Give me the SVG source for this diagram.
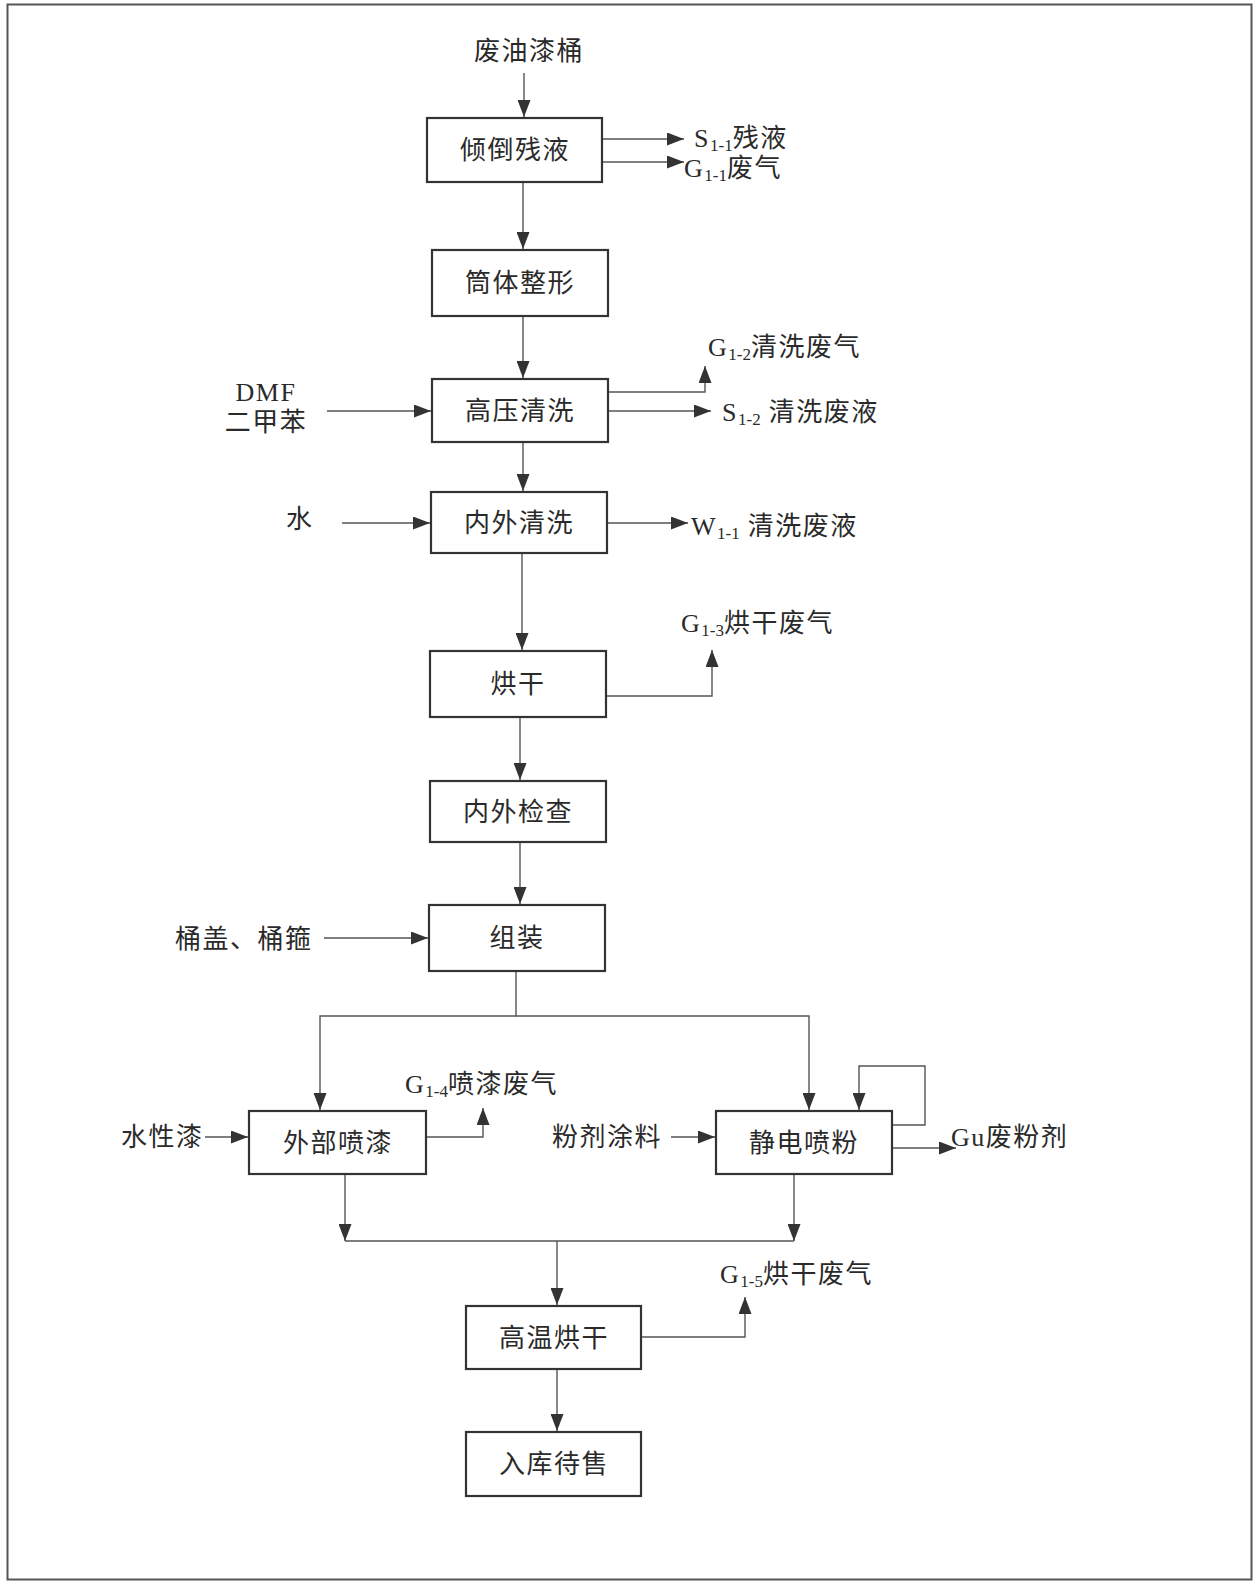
<svg xmlns="http://www.w3.org/2000/svg" width="1257" height="1586" viewBox="0 0 1257 1586">
<style>
.box{fill:#fff;stroke:#333;stroke-width:2.2}
.ln{fill:none;stroke:#555;stroke-width:1.4}
.t{font-family:"Liberation Serif","Noto Sans CJK SC",serif;font-size:26px;fill:#2a2a2a;letter-spacing:1.5px}
.c{text-anchor:middle}
.sub{font-size:17px;letter-spacing:0}
</style>
<defs>
<marker id="ah" markerUnits="userSpaceOnUse" markerWidth="17" markerHeight="13" refX="17" refY="6.5" orient="auto">
<path d="M0,0 L17,6.5 L0,13 z" fill="#333"/>
</marker>
</defs>
<rect x="0" y="0" width="1257" height="1586" fill="#fff"/>
<rect x="7.5" y="4.5" width="1244" height="1575" fill="none" stroke="#555" stroke-width="2"/>

<g id="connectors">
<line class="ln" x1="524" y1="73" x2="524" y2="117" marker-end="url(#ah)"/>
<line class="ln" x1="603" y1="139" x2="684" y2="139" marker-end="url(#ah)"/>
<line class="ln" x1="603" y1="162" x2="684" y2="162" marker-end="url(#ah)"/>
<line class="ln" x1="523" y1="183" x2="523" y2="249" marker-end="url(#ah)"/>
<line class="ln" x1="523" y1="316" x2="523" y2="378" marker-end="url(#ah)"/>
<polyline class="ln" points="608,392 705,392 705,366" marker-end="url(#ah)"/>
<line class="ln" x1="608" y1="411" x2="711" y2="411" marker-end="url(#ah)"/>
<line class="ln" x1="327" y1="411" x2="431" y2="411" marker-end="url(#ah)"/>
<line class="ln" x1="523" y1="442" x2="523" y2="491" marker-end="url(#ah)"/>
<line class="ln" x1="342" y1="523" x2="430" y2="523" marker-end="url(#ah)"/>
<line class="ln" x1="607" y1="523" x2="688" y2="523" marker-end="url(#ah)"/>
<line class="ln" x1="522" y1="553" x2="522" y2="650" marker-end="url(#ah)"/>
<polyline class="ln" points="606,696 712,696 712,650" marker-end="url(#ah)"/>
<line class="ln" x1="520" y1="717" x2="520" y2="780" marker-end="url(#ah)"/>
<line class="ln" x1="520" y1="842" x2="520" y2="904" marker-end="url(#ah)"/>
<line class="ln" x1="324" y1="938" x2="428" y2="938" marker-end="url(#ah)"/>
<polyline class="ln" points="516,971 516,1016 320,1016 320,1110" marker-end="url(#ah)"/>
<polyline class="ln" points="516,1016 809,1016 809,1110" marker-end="url(#ah)"/>
<line class="ln" x1="205" y1="1137" x2="248" y2="1137" marker-end="url(#ah)"/>
<polyline class="ln" points="426,1137 483,1137 483,1108" marker-end="url(#ah)"/>
<line class="ln" x1="671" y1="1137" x2="715" y2="1137" marker-end="url(#ah)"/>
<polyline class="ln" points="892,1125 925,1125 925,1066 859,1066 859,1110" marker-end="url(#ah)"/>
<line class="ln" x1="892" y1="1148" x2="956" y2="1148" marker-end="url(#ah)"/>
<line class="ln" x1="345" y1="1174" x2="345" y2="1241" marker-end="url(#ah)"/>
<line class="ln" x1="794" y1="1174" x2="794" y2="1241" marker-end="url(#ah)"/>
<line class="ln" x1="345" y1="1241" x2="794" y2="1241"/>
<line class="ln" x1="557" y1="1241" x2="557" y2="1305" marker-end="url(#ah)"/>
<polyline class="ln" points="641,1337 745,1337 745,1297" marker-end="url(#ah)"/>
<line class="ln" x1="557" y1="1369" x2="557" y2="1431" marker-end="url(#ah)"/>
</g>

<g id="n1"><rect class="box" x="427" y="118" width="175" height="64"/><text class="t c" x="515" y="159">倾倒残液</text></g>
<g id="n2"><rect class="box" x="432" y="250" width="176" height="66"/><text class="t c" x="520" y="292">筒体整形</text></g>
<g id="n3"><rect class="box" x="432" y="379" width="176" height="63"/><text class="t c" x="520" y="420">高压清洗</text></g>
<g id="n4"><rect class="box" x="431" y="492" width="176" height="61"/><text class="t c" x="519" y="532">内外清洗</text></g>
<g id="n5"><rect class="box" x="430" y="651" width="176" height="66"/><text class="t c" x="518" y="693">烘干</text></g>
<g id="n6"><rect class="box" x="430" y="781" width="176" height="61"/><text class="t c" x="518" y="821">内外检查</text></g>
<g id="n7"><rect class="box" x="429" y="905" width="176" height="66"/><text class="t c" x="517" y="947">组装</text></g>
<g id="n8"><rect class="box" x="249" y="1111" width="177" height="63"/><text class="t c" x="338" y="1152">外部喷漆</text></g>
<g id="n9"><rect class="box" x="716" y="1111" width="176" height="63"/><text class="t c" x="804" y="1152">静电喷粉</text></g>
<g id="n10"><rect class="box" x="466" y="1306" width="175" height="63"/><text class="t c" x="554" y="1347">高温烘干</text></g>
<g id="n11"><rect class="box" x="466" y="1432" width="175" height="64"/><text class="t c" x="554" y="1473">入库待售</text></g>

<g id="labels">
<text class="t c" x="529" y="60">废油漆桶</text>
<text class="t" x="694" y="147">S<tspan class="sub" dy="4">1-1</tspan><tspan dy="-4">残液</tspan></text>
<text class="t" x="684" y="177">G<tspan class="sub" dy="4">1-1</tspan><tspan dy="-4">废气</tspan></text>
<text class="t" x="708" y="356">G<tspan class="sub" dy="4">1-2</tspan><tspan dy="-4">清洗废气</tspan></text>
<text class="t" x="722" y="421">S<tspan class="sub" dy="4">1-2</tspan><tspan dy="-4"> 清洗废液</tspan></text>
<text class="t c" x="266" y="401">DMF</text>
<text class="t c" x="266" y="431">二甲苯</text>
<text class="t" x="286" y="528">水</text>
<text class="t" x="691" y="535">W<tspan class="sub" dy="4">1-1</tspan><tspan dy="-4"> 清洗废液</tspan></text>
<text class="t" x="681" y="632">G<tspan class="sub" dy="4">1-3</tspan><tspan dy="-4">烘干废气</tspan></text>
<text class="t" x="175" y="948">桶盖、桶箍</text>
<text class="t" x="405" y="1093">G<tspan class="sub" dy="4">1-4</tspan><tspan dy="-4">喷漆废气</tspan></text>
<text class="t" x="121" y="1146">水性漆</text>
<text class="t" x="552" y="1146">粉剂涂料</text>
<text class="t" x="951" y="1146">Gu废粉剂</text>
<text class="t" x="720" y="1283">G<tspan class="sub" dy="4">1-5</tspan><tspan dy="-4">烘干废气</tspan></text>
</g>
</svg>
